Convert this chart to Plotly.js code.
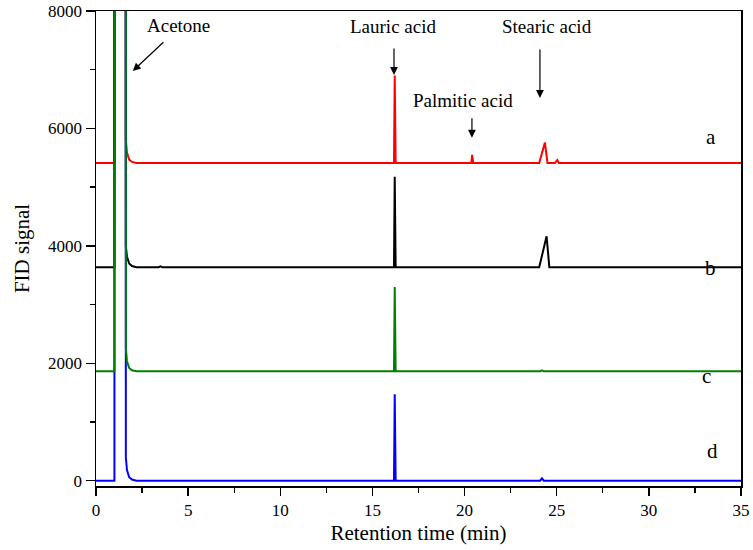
<!DOCTYPE html>
<html>
<head>
<meta charset="utf-8">
<script src="https://cdn.plot.ly/plotly-3.0.1.min.js"></script>
<style>html,body{margin:0;padding:0;background:#fff;}#chart{width:753px;height:550px;}</style>
</head>
<body>
<div id="chart"></div>
<script>
// Retention time (min) and FID signal for the four chromatograms
var timeA = [0, 1.0, 1.03, 1.58, 1.62, 1.68, 1.8, 1.95, 2.2, 16.1, 16.17, 16.21, 16.26, 16.32, 20.3, 20.37, 20.41, 20.47, 24.05, 24.36, 24.5, 24.9, 25.03, 25.12, 35];
var sigA  = [5410, 5410, 60000, 60000, 5800, 5590, 5470, 5430, 5410, 5410, 5410, 6900, 5410, 5410, 5410, 5410, 5550, 5410, 5410, 5760, 5410, 5410, 5461, 5410, 5410];

var timeB = [0, 1.0, 1.03, 1.58, 1.62, 1.68, 1.8, 1.95, 2.2, 3.4, 3.5, 3.6, 16.1, 16.17, 16.21, 16.26, 16.32, 24.05, 24.45, 24.6, 35];
var sigB  = [3636, 3636, 60000, 60000, 4000, 3820, 3700, 3656, 3636, 3636, 3650, 3636, 3636, 3636, 5175, 3636, 3636, 3636, 4163, 3636, 3636];

var timeC = [0, 1.0, 1.03, 1.58, 1.62, 1.68, 1.8, 1.95, 2.2, 16.1, 16.17, 16.21, 16.26, 16.32, 24.1, 24.2, 24.3, 35];
var sigC  = [1864, 1864, 60000, 60000, 2260, 2040, 1920, 1880, 1864, 1864, 1864, 3297, 1864, 1864, 1864, 1880, 1864, 1864];

var timeD = [0, 1.0, 1.03, 1.58, 1.62, 1.68, 1.8, 1.95, 2.2, 16.1, 16.17, 16.21, 16.26, 16.32, 24.1, 24.2, 24.3, 35];
var sigD  = [0, 0, 60000, 60000, 400, 180, 60, 20, 0, 0, 0, 1473, 0, 0, 0, 40, 0, 0];

var traceNames  = ['a', 'b', 'd', 'c'];
var traceColors = ['#ff0000', '#000000', '#0000ff', '#008000'];

// Peak labels: text, position (data units)
var peakLabels = ['Acetone', 'Lauric acid', 'Palmitic acid', 'Stearic acid'];
var peakLabelX = [4.45, 16.11, 19.91, 24.47];
var peakLabelY = [7746, 7729, 6469, 7729];
// Arrow heads (data units) and tail offsets (px)
var arrowX  = [2.0, 16.17, 20.4, 24.09];
var arrowY  = [6980, 6912, 5843, 6520];
var arrowAX = [32, 0, 0, 0];
var arrowAY = [-30, -28, -21, -50];

// Curve labels
var curveLabels = ['a', 'b', 'c', 'd'];
var curveLabelX = [33.37, 33.37, 33.15, 33.48];
var curveLabelY = [5855, 3624, 1784, 506];

var xs = [timeA, timeB, timeD, timeC];
var ys = [sigA, sigB, sigD, sigC];
var data = [];
for (var i = 0; i < xs.length; i++) {
  data.push({x: xs[i], y: ys[i], type: 'scatter', mode: 'lines', name: traceNames[i],
             line: {color: traceColors[i], width: 2}, cliponaxis: true, hoverinfo: 'skip'});
}

var font = 'Liberation Serif';
var ann = [];
for (var j = 0; j < peakLabels.length; j++) {
  ann.push({x: peakLabelX[j], y: peakLabelY[j], xref: 'x', yref: 'y', text: peakLabels[j],
            showarrow: false, font: {family: font, size: 19, color: '#000'}});
  ann.push({x: arrowX[j], y: arrowY[j], xref: 'x', yref: 'y', text: '', showarrow: true,
            ax: arrowAX[j], ay: arrowAY[j], arrowhead: 2, arrowsize: 1.3, arrowwidth: 1.2,
            arrowcolor: '#000', standoff: 0});
}
for (var k = 0; k < curveLabels.length; k++) {
  ann.push({x: curveLabelX[k], y: curveLabelY[k], xref: 'x', yref: 'y', text: curveLabels[k],
            showarrow: false, font: {family: font, size: 21, color: '#000'}});
}

var layout = {
  width: 753, height: 550,
  margin: {l: 96, r: 12, t: 11, b: 64},
  paper_bgcolor: '#fff', plot_bgcolor: '#fff',
  showlegend: false,
  font: {family: font, color: '#000'},
  xaxis: {
    range: [0, 35], tickmode: 'linear', tick0: 0, dtick: 5,
    ticks: 'outside', ticklen: 8, tickwidth: 1.3, tickcolor: '#000',
    minor: {dtick: 2.5, ticks: 'outside', ticklen: 5, tickwidth: 1.3, tickcolor: '#000'},
    showline: true, linecolor: '#000', linewidth: 1.5, mirror: true,
    showgrid: false, zeroline: false,
    tickfont: {family: font, size: 17, color: '#000'},
    title: {text: 'Retention time (min)', font: {family: font, size: 21, color: '#000'}, standoff: 6}
  },
  yaxis: {
    range: [-90, 8000], tickmode: 'linear', tick0: 0, dtick: 2000,
    ticks: 'outside', ticklen: 9, tickwidth: 1.3, tickcolor: '#000',
    minor: {dtick: 1000, ticks: 'outside', ticklen: 5, tickwidth: 1.3, tickcolor: '#000'},
    showline: true, linecolor: '#000', linewidth: 1.5, mirror: true,
    showgrid: false, zeroline: false,
    tickfont: {family: font, size: 17, color: '#000'},
    title: {text: 'FID signal', font: {family: font, size: 21, color: '#000'}, standoff: 12}
  },
  annotations: ann
};

Plotly.newPlot('chart', data, layout, {staticPlot: true, displayModeBar: false});
</script>
</body>
</html>
